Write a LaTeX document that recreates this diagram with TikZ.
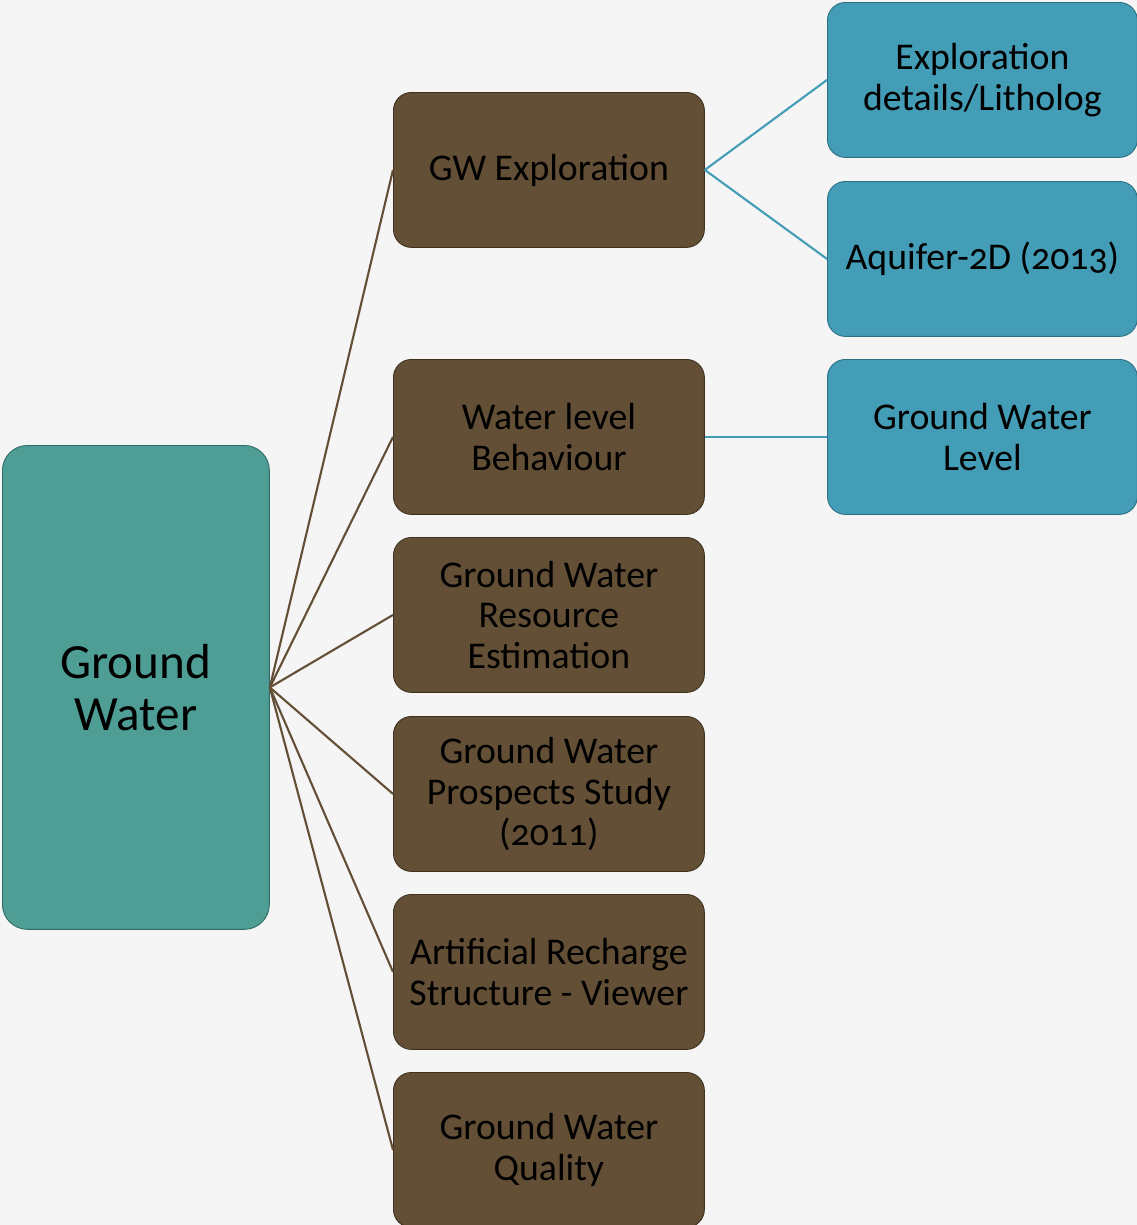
\documentclass[tikz,border=0pt]{standalone}
\usepackage{fontspec}
\setmainfont{Carlito}[Numbers=OldStyle]
\usepackage{xcolor}
\definecolor{paper}{HTML}{F5F5F5}
\definecolor{teal}{HTML}{4E9E96}
\definecolor{tealdark}{HTML}{2F6B64}
\definecolor{brown}{HTML}{634F35}
\definecolor{browndark}{HTML}{3E3120}
\definecolor{sky}{HTML}{449DB6}
\definecolor{skydark}{HTML}{2C6E82}
\usepackage{tikz}
\usetikzlibrary{positioning, calc}

\begin{document}
\begin{tikzpicture}[x=0.02cm, y=-0.02cm,
  rootbox/.style={draw=tealdark, fill=teal, line width=0.5pt, rounded corners=0.5cm,
    minimum width=5.34cm, minimum height=9.68cm, align=center,
    font=\fontsize{28}{29.5}\selectfont, anchor=north west, inner sep=0pt},
  topicbox/.style={draw=browndark, fill=brown, line width=0.5pt, rounded corners=0.36cm,
    minimum width=6.22cm, minimum height=3.1cm, align=center,
    font=\fontsize{21.5}{23.2}\selectfont, anchor=north west, inner sep=0pt},
  layerbox/.style={draw=skydark, fill=sky, line width=0.5pt, rounded corners=0.36cm,
    minimum width=6.2cm, minimum height=3.1cm, align=center,
    font=\fontsize{21.5}{23.2}\selectfont, anchor=north west, inner sep=0pt},
  brownlink/.style={draw=brown, line width=1.2pt},
  skylink/.style={draw=sky, line width=1.2pt}]
  \fill[paper] (0,0) rectangle (1137,1225);
  \useasboundingbox (0,0) rectangle (1137,1225);

  % root
  \node[rootbox] (gw) at (2, 445) {Ground\\Water};

  % topics
  \node[topicbox] (gwexp)   at (393,   92) {GW Exploration};
  \node[topicbox] (wlevel)  at (393,  359) {Water level\\Behaviour};
  \node[topicbox] (resest)  at (393,  537) {Ground Water\\Resource\\Estimation};
  \node[topicbox] (prosp)   at (393,  716) {Ground Water\\Prospects Study\\(2011)};
  \node[topicbox] (arsv)    at (393,  894) {Artificial Recharge\\Structure - Viewer};
  \node[topicbox] (quality) at (393, 1072) {Ground Water\\Quality};

  % layers
  \node[layerbox] (litho)   at (827,   2) {Exploration\\details/Litholog};
  \node[layerbox] (aquifer) at (827, 181) {Aquifer-2D (2013)};
  \node[layerbox] (gwl)     at (827, 359) {Ground Water\\Level};

  \foreach \t in {gwexp, wlevel, resest, prosp, arsv, quality}
    \draw[brownlink] (gw.east) -- (\t.west);

  \draw[skylink] (gwexp.east) -- (litho.west);
  \draw[skylink] (gwexp.east) -- (aquifer.west);
  \draw[skylink] (wlevel.east) -- (gwl.west);
\end{tikzpicture}
\end{document}
